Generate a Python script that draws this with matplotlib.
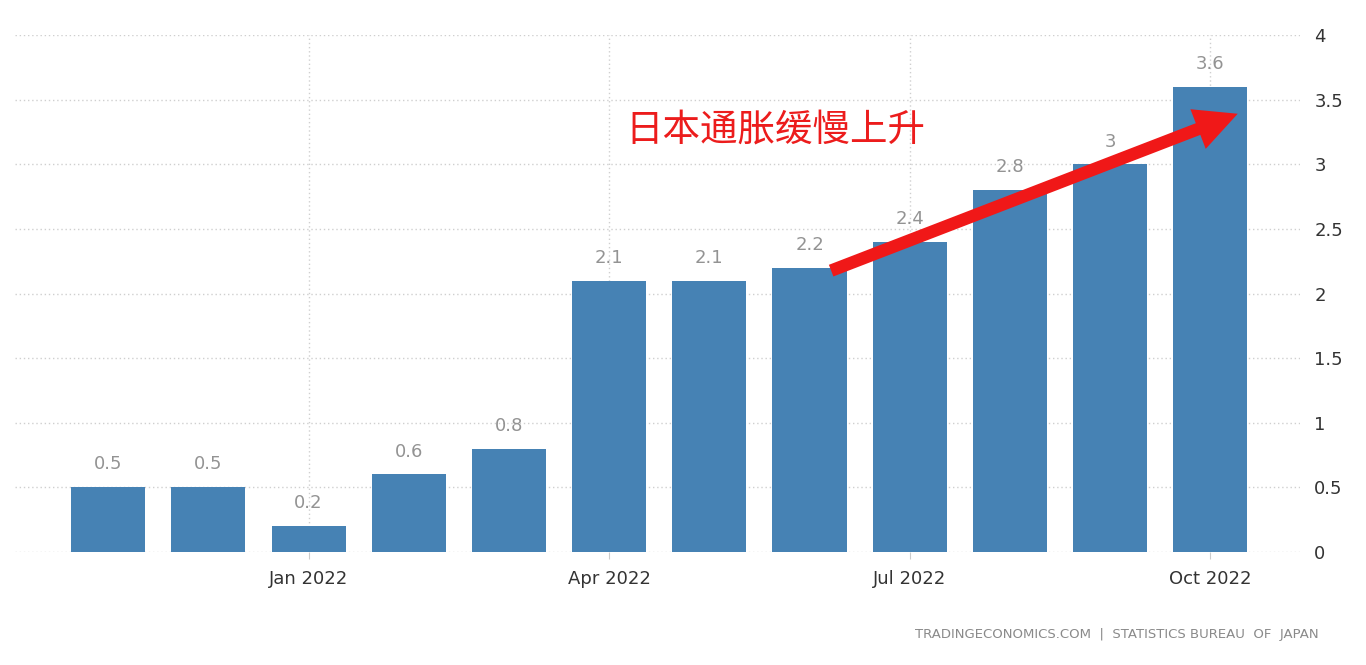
import matplotlib
matplotlib.use("Agg")
import matplotlib.pyplot as plt

months = ["Nov 2021", "Dec 2021", "Jan 2022", "Feb 2022", "Mar 2022", "Apr 2022",
          "May 2022", "Jun 2022", "Jul 2022", "Aug 2022", "Sep 2022", "Oct 2022"]
values = [0.5, 0.5, 0.2, 0.6, 0.8, 2.1, 2.1, 2.2, 2.4, 2.8, 3.0, 3.6]
value_labels = ["0.5", "0.5", "0.2", "0.6", "0.8", "2.1", "2.1", "2.2", "2.4", "2.8", "3", "3.6"]
tick_months = ["Jan 2022", "Apr 2022", "Jul 2022", "Oct 2022"]
y_ticks = [0, 0.5, 1, 1.5, 2, 2.5, 3, 3.5, 4]
y_tick_labels = ["0", "0.5", "1", "1.5", "2", "2.5", "3", "3.5", "4"]
annotation = "日本通胀缓慢上升"
footer = "TRADINGECONOMICS.COM  |  STATISTICS BUREAU  OF  JAPAN"

plt.rcParams['font.family'] = ['DejaVu Sans', 'Noto Sans CJK SC']

fig = plt.figure(figsize=(13.66, 6.65), dpi=100)
ax = fig.add_axes([0.011, 0.170, 0.941, 0.777])

x = list(range(len(months)))
ax.bar(x, values, width=0.74, color='#4682b4', zorder=2)

for xi, v, lab in zip(x, values, value_labels):
    ax.annotate(lab, (xi, v), xytext=(0, 10), textcoords='offset points',
                ha='center', va='bottom', fontsize=13, color='#939393')

ax.set_xlim(-0.93, 11.9)
ax.set_ylim(0, 4)

tick_pos = [months.index(m) for m in tick_months]
ax.set_xticks(tick_pos)
ax.set_xticklabels(tick_months, fontsize=13, color='#333333')
ax.tick_params(axis='x', length=5, color='#cccccc', pad=8)

ax.yaxis.tick_right()
ax.set_yticks(y_ticks)
ax.set_yticklabels(y_tick_labels, fontsize=13, color='#333333')
ax.tick_params(axis='y', length=0, pad=10)

ax.grid(True, axis='both', linestyle=(0, (1, 2)), color='#cfcfcf', linewidth=1, zorder=0)
ax.set_axisbelow(True)
for s in ax.spines.values():
    s.set_visible(False)

ax.text(5.16, 3.27, annotation,
        family=['Noto Sans CJK SC', 'DejaVu Sans'],
        fontsize=27, color='#ec1c1c', ha='left', va='center')

ax.annotate('', xy=(11.3, 3.4), xytext=(7.19, 2.17),
            arrowprops=dict(arrowstyle='simple,head_width=1.7,head_length=1.7,tail_width=0.5',
                            color='#f01818', mutation_scale=18, lw=0),
            zorder=5)

fig.text(0.965, 0.046, footer, ha='right', va='center', fontsize=9.5, color='#8a8a8a')

fig.savefig('out.png', dpi=100)
